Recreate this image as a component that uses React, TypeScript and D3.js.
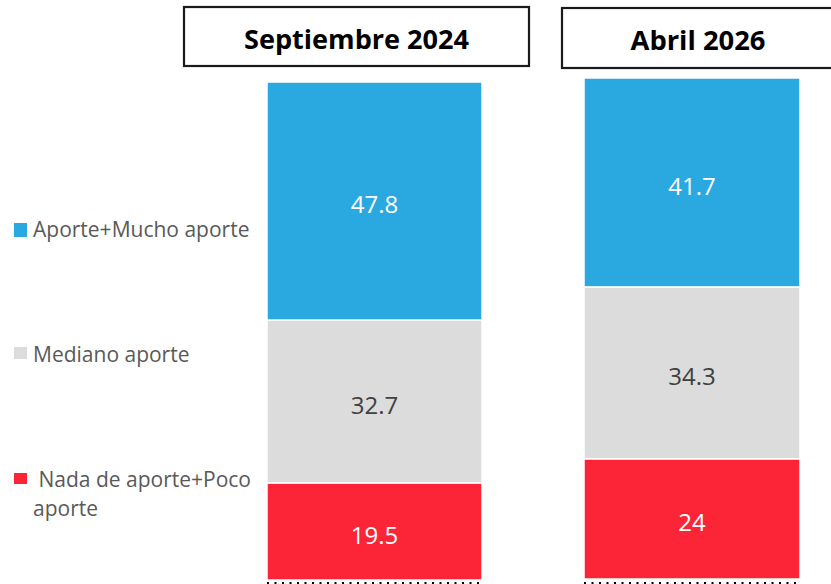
import React from "react";
import * as d3 from "d3";

const periods = ["Septiembre 2024", "Abril 2026"];
const categories = ["Nada de aporte+Poco aporte", "Mediano aporte", "Aporte+Mucho aporte"];
const nadaPoco = [19.5, 24];
const mediano = [32.7, 34.3];
const aporteMucho = [47.8, 41.7];

const colors = ["#FC2537", "#DCDCDC", "#2AA9E0"];
const labelColors = ["#FFFFFF", "#404040", "#FFFFFF"];

const W = 831;
const H = 584;

// per-panel layout
const panels = [
  { x0: 267, x1: 482, base: 580, top: 82, box: [184, 7, 345, 59], titleY: 49 },
  { x0: 584, x1: 800, base: 579, top: 78, box: [562, 8, 280, 60], titleY: 50 },
];

const legendLayout = [
  { sq: [14, 473, 13, 11], lines: [{ t: " Nada de aporte+Poco", x: 33, y: 487 }, { t: "aporte", x: 33, y: 516 }] },
  { sq: [14, 347, 13, 12], lines: [{ t: "Mediano aporte", x: 33, y: 362 }] },
  { sq: [14, 223, 13, 14], lines: [{ t: "Aporte+Mucho aporte", x: 33, y: 237 }] },
];

export default function App() {
  const rows = periods.map((p, i) => ({
    period: p,
    [categories[0]]: nadaPoco[i],
    [categories[1]]: mediano[i],
    [categories[2]]: aporteMucho[i],
  }));
  const stack = d3.stack<any>().keys(categories)(rows);

  return (
    <div style={{ position: "absolute", left: 0, top: 0 }}>
      <svg width={W} height={H} style={{ display: "block", fontFamily: "'Open Sans', sans-serif" }}>
        <rect x={0} y={0} width={W} height={H} fill="#FFFFFF" />
        {panels.map((pn, pi) => {
          const y = d3.scaleLinear().domain([0, 100]).range([pn.base, pn.top]);
          const xb = d3.scaleBand().domain([periods[pi]]).range([pn.x0, pn.x1]).padding(0);
          const bx = xb(periods[pi]) as number;
          const bw = xb.bandwidth();
          const [bX, bY, bW, bH] = pn.box;
          return (
            <g key={pi}>
              <rect x={bX} y={bY} width={bW} height={bH} fill="#FFFFFF" stroke="#1A1A1A" strokeWidth={2.2} />
              <text
                x={bX + bW / 2 + (pi === 1 ? -4 : 0)}
                y={pn.titleY}
                textAnchor="middle"
                fontWeight={700}
                fontSize={27}
                fill="#000000"
                textLength={pi === 0 ? 225 : 135}
                lengthAdjust="spacingAndGlyphs"
              >
                {periods[pi]}
              </text>
              {stack.map((s, si) => {
                const d = s[pi];
                const yTop = y(d[1]);
                const yBot = y(d[0]);
                const v = (d.data as any)[categories[si]];
                return (
                  <g key={si}>
                    <rect
                      x={bx}
                      y={yTop}
                      width={bw}
                      height={yBot - yTop}
                      fill={colors[si]}
                      stroke="#FFFFFF"
                      strokeWidth={1.5}
                    />
                    <text
                      x={bx + bw / 2}
                      y={(yTop + yBot) / 2 + 4}
                      dy="0.35em"
                      textAnchor="middle"
                      fontSize={24}
                      fill={labelColors[si]}
                    >
                      {String(v)}
                    </text>
                  </g>
                );
              })}
              <line
                x1={pn.x0}
                x2={pn.x1}
                y1={583}
                y2={583}
                stroke="#000000"
                strokeWidth={2}
                strokeDasharray="2,5.5"
              />
            </g>
          );
        })}
        {legendLayout.map((lg, li) => (
          <g key={li}>
            <rect x={lg.sq[0]} y={lg.sq[1]} width={lg.sq[2]} height={lg.sq[3]} fill={colors[li]} />
            {lg.lines.map((ln, k) => (
              <text key={k} x={ln.x} y={ln.y} fontSize={21} fill="#595959" xmlSpace="preserve" style={{ whiteSpace: "pre" }}>
                {ln.t}
              </text>
            ))}
          </g>
        ))}
      </svg>
    </div>
  );
}
